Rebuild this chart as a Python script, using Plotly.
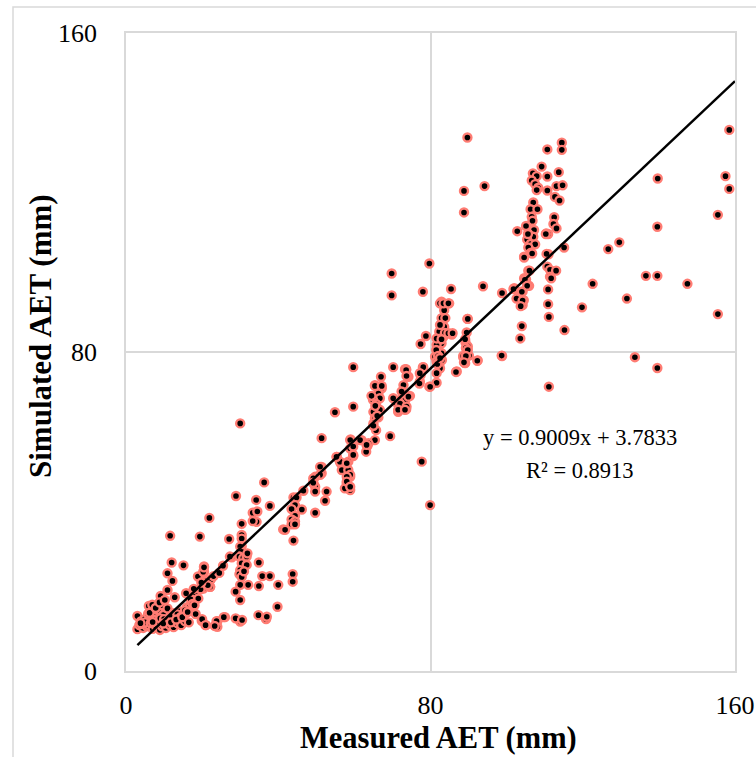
import plotly.graph_objects as go

# Measured (x) and simulated (y) AET, mm
measured_aet = [
    # right sparse
    158.5,139.7,157.5,158.5,155.5,139.6,129.6,126.7,136.6,139.6,122.6,147.5,119.8,131.6,155.5,133.7,139.6,
    # x 88-100 upper
    89.7,88.8,94.2,88.8,93.8,98.8,89.7,89.5,89.6,92.4,98.8,89.0,
    # cluster 102-116
    114.5,114.5,110.7,109.2,113.7,106.9,107.9,110.7,106.6,107.5,108.3,107.9,113.1,114.7,110.7,112.7,113.9,107.0,
    106.3,108.1,106.6,106.8,112.5,112.3,113.1,105.1,102.8,107.2,105.7,107.0,110.4,105.4,106.3,107.5,105.7,106.4,
    104.6,111.0,115.1,105.7,110.7,111.4,113.0,111.4,104.6,110.9,110.9,111.1,104.0,103.6,115.2,111.1,104.2,104.5,
    103.1,102.0,104.2,105.9,105.1,106.0,111.7,110.9,106.7,104.6,104.8,105.4,104.0,102.6,104.2,103.7,101.8,105.6,
    110.3,110.5,
    # 78-92
    79.7,78.0,85.4,82.9,84.9,83.6,82.9,83.9,83.6,82.3,83.4,85.6,82.9,81.6,82.3,81.2,82.9,81.6,82.3,82.5,81.6,78.8,
    77.4,78.0,73.6,74.2,77.4,89.8,89.2,89.8,90.1,88.6,89.1,92.3,98.7,86.9,82.5,83.4,84.7,82.5,83.8,81.6,82.9,
    84.7,85.8,81.5,82.0,83.0,81.8,82.5,78.1,81.6,79.7,89.1,89.3,89.8,88.6,89.3,69.8,69.8,77.7,79.9,
    # 44-78
    59.7,70.2,73.3,73.9,67.0,65.4,67.2,66.3,66.7,64.9,65.7,66.7,65.0,65.4,66.3,65.0,65.7,59.7,54.9,51.4,59.0,61.9,
    65.4,69.4,63.4,58.9,63.1,59.7,55.4,56.4,58.4,56.7,58.4,58.9,51.4,51.4,72.9,72.4,74.6,72.0,73.3,71.1,73.6,71.5,
    77.2,77.2,79.9,86.7,88.8,65.4,67.2,64.5,65.5,66.0,65.0,70.2,72.0,71.5,73.7,73.3,74.2,73.6,73.7,77.1,58.9,61.5,
    63.7,59.7,63.2,56.2,58.0,58.9,58.0,58.9,57.5,59.7,55.3,51.0,51.0,49.7,49.2,49.7,49.7,52.7,52.3,49.7,46.6,44.0,
    44.8,44.4,43.5,46.2,44.4,43.5,44.4,43.5,44.4,41.3,41.8,44.0,49.2,49.2,58.0,58.0,58.9,
    # 19-45
    30.0,36.3,28.9,34.2,33.3,34.5,34.3,33.3,37.8,21.9,30.4,30.4,30.4,30.4,27.1,27.8,34.9,19.4,20.5,30.0,30.4,29.8,
    30.8,31.7,30.4,31.7,30.0,29.8,30.4,31.9,27.3,40.0,39.8,35.8,37.8,34.9,30.0,32.1,28.8,30.0,43.8,43.8,34.8,36.8,
    30.0,28.8,26.0,24.0,24.0,21.0,19.9,30.5,20.5,22.1,21.2,22.1,20.3,11.6,37.0,31.0,
    # bottom-left cluster
    3.0,3.5,4.5,5.5,6.0,7.0,8.0,8.9,9.5,10.5,11.5,12.5,13.5,14.5,15.5,16.5,
    3.0,4.0,5.0,5.8,6.0,6.9,7.5,8.4,9.1,9.5,9.8,10.9,10.9,10.9,12.2,12.0,15.1,11.5,12.5,13.0,14.0,15.0,16.0,16.8,
    17.0,18.3,19.6,18.3,20.0,20.9,23.8,23.3,25.7,18.9,20.3,20.5,21.0,22.1,22.3,21.5,
    4.0,5.0,6.5,7.5,8.5,9.0,10.0,11.0,12.0,13.5,14.5,15.5,17.5,19.0,3.8,7.0,9.8,11.8,13.2,14.8,16.2,18.0,
    6.2,7.8,8.8,10.2,12.8,15.8,17.8,19.8,23.0,24.5,25.5,
]
simulated_aet = [
    135.7,123.5,124.1,120.9,114.4,111.4,107.5,105.8,99.1,99.1,97.1,97.1,91.2,93.4,89.5,78.7,76.0,
    133.8,120.4,121.6,115.0,96.5,94.8,88.3,84.9,81.0,77.9,79.0,77.3,
    132.5,130.7,130.8,126.5,125.1,124.8,124.1,124.0,123.0,122.1,121.2,120.6,121.6,121.8,120.5,118.9,118.0,117.5,
    115.8,115.8,113.9,112.9,113.8,112.1,111.0,111.6,110.3,110.6,109.6,108.9,109.7,108.2,107.1,107.0,106.2,104.9,
    103.9,104.5,106.2,100.4,101.4,100.6,100.4,98.9,98.5,95.7,92.0,88.8,86.5,83.4,85.5,71.3,91.8,93.0,
    93.7,96.0,95.2,96.6,98.2,100.4,98.5,109.6,104.7,103.7,98.1,96.6,95.1,93.4,92.9,91.5,95.8,109.6,
    109.6,104.6,
    102.2,95.1,95.8,92.6,92.2,90.5,88.5,88.5,86.3,85.1,83.8,84.4,82.2,81.8,80.1,78.8,79.7,77.6,76.7,75.9,74.7,84.0,
    82.0,76.2,75.7,73.8,74.2,88.3,82.4,81.4,79.1,78.7,77.2,77.8,79.1,75.1,92.2,92.2,92.2,86.8,84.8,83.4,83.2,
    84.7,84.7,80.5,79.0,78.0,77.0,78.5,76.2,72.3,71.3,83.2,81.0,80.5,79.0,79.0,99.7,94.2,52.5,41.6,
    76.2,76.2,75.7,74.0,73.8,71.7,70.9,69.6,68.4,68.0,67.0,65.5,65.0,63.4,63.6,62.1,60.4,66.3,64.9,58.4,58.1,57.9,
    57.9,58.9,56.4,55.8,55.0,53.9,53.7,52.1,52.5,50.4,50.4,48.7,51.2,49.6,71.7,70.1,69.0,68.0,67.8,67.3,65.6,65.0,
    74.7,72.6,71.3,75.0,77.4,71.5,71.5,69.0,66.5,64.0,61.5,68.4,67.1,65.5,66.3,65.5,68.8,75.5,74.0,72.1,57.9,57.9,
    57.1,56.3,56.7,52.5,52.1,49.2,47.1,45.4,45.8,54.2,53.7,51.2,49.2,48.7,47.1,46.2,45.0,45.0,42.7,39.7,45.2,43.5,
    43.5,41.6,40.6,40.5,38.9,38.0,37.5,36.8,36.8,35.5,35.4,32.7,48.3,47.2,48.7,47.5,46.2,
    62.1,47.3,43.9,42.9,39.7,40.0,37.4,37.6,41.4,38.4,36.9,34.1,33.2,31.3,33.1,28.5,27.2,33.7,26.2,31.2,29.9,28.7,
    28.3,28.7,27.0,26.6,25.3,24.3,23.6,29.5,28.7,21.6,16.1,23.8,23.8,21.3,21.6,21.6,19.9,17.8,24.3,22.4,14.0,13.0,
    12.4,13.2,13.5,12.5,11.1,11.5,12.6,12.8,24.9,22.8,22.0,21.1,20.7,33.9,13.6,25.0,
    10.5,11.5,10.8,11.2,11.5,10.6,11.0,10.3,11.2,10.8,11.5,11.0,12.0,11.5,12.5,12.2,
    13.8,12.5,13.0,14.3,16.3,16.6,13.5,15.3,18.8,16.5,14.0,15.7,20.3,24.5,22.6,27.2,26.5,13.5,14.5,13.0,15.0,14.0,16.0,16.1,
    18.0,19.6,20.5,14.3,13.0,11.5,12.5,11.3,13.5,23.7,24.9,26.0,22.5,21.1,23.0,21.5,
    11.8,12.2,12.0,12.8,12.4,13.2,13.0,12.6,13.8,14.2,13.6,15.2,16.8,18.2,12.0,12.3,11.9,12.2,12.9,13.5,14.8,16.5,
    14.6,15.8,17.2,17.8,18.5,19.5,20.6,22.2,23.8,24.6,26.4,
]

# Linear trend reported on the chart
slope = 0.9009
intercept = 3.7833
trend_x = [3.0, 160.0]
trend_y = [slope * v + intercept for v in trend_x]

axis_ticks = [0, 80, 160]
tick_labels = ["0", "80", "160"]

FONT = "Liberation Serif, DejaVu Serif, serif"
GRID = "#d9d9d9"

fig = go.Figure()
fig.add_trace(go.Scatter(
    x=measured_aet, y=simulated_aet, mode="markers",
    marker=dict(size=8, color="black", line=dict(color="rgb(255,124,115)", width=2.4)),
    showlegend=False, hoverinfo="x+y",
))
fig.add_trace(go.Scatter(
    x=trend_x, y=trend_y, mode="lines",
    line=dict(color="black", width=2.5), showlegend=False, hoverinfo="skip",
))

W, H = 756, 757
L, T = 126, 33
R = W - 735
B = H - 671
pw, ph = 735 - 126, 671 - 33

def px(xp):
    return (xp - 126) / pw

def py(yp):
    return (671 - yp) / ph

fig.update_layout(
    width=W, height=H,
    margin=dict(l=L, r=R, t=T, b=B, pad=0, autoexpand=False),
    paper_bgcolor="white", plot_bgcolor="white",
    font=dict(family=FONT, size=21, color="black"),
    xaxis=dict(
        range=[0, 160], tickvals=axis_ticks, ticktext=tick_labels,
        showgrid=True, gridcolor=GRID, gridwidth=1.5,
        showline=True, linecolor=GRID, linewidth=1.5, mirror=True,
        zeroline=False, ticks="outside", ticklen=10, tickcolor="rgba(0,0,0,0)",
        tickfont=dict(family=FONT, size=26), automargin=False,
    ),
    yaxis=dict(
        range=[0, 160], tickvals=axis_ticks, ticktext=tick_labels,
        showgrid=True, gridcolor=GRID, gridwidth=1.5,
        showline=True, linecolor=GRID, linewidth=1.5, mirror=True,
        zeroline=False, ticks="outside", ticklen=22, tickcolor="rgba(0,0,0,0)",
        tickfont=dict(family=FONT, size=26), automargin=False,
    ),
    shapes=[dict(type="rect", xref="paper", yref="paper",
                 x0=px(13), x1=px(770), y0=py(7), y1=py(770),
                 line=dict(color=GRID, width=1.5), layer="below")],
    annotations=[
        dict(text="y = 0.9009x + 3.7833", x=px(580), y=py(438), xref="paper", yref="paper",
             showarrow=False, font=dict(family=FONT, size=22.5), xanchor="center", yanchor="middle"),
        dict(text="R² = 0.8913", x=px(580), y=py(470), xref="paper", yref="paper",
             showarrow=False, font=dict(family=FONT, size=22.5), xanchor="center", yanchor="middle"),
        dict(text="<b>Measured AET (mm)</b>", x=px(438), y=py(738), xref="paper", yref="paper",
             showarrow=False, font=dict(family=FONT, size=30.5), xanchor="center", yanchor="middle"),
        dict(text="<b>Simulated AET (mm)</b>", x=px(40), y=py(336), xref="paper", yref="paper",
             showarrow=False, textangle=-90, font=dict(family=FONT, size=31),
             xanchor="center", yanchor="middle"),
    ],
)

# remove the browser's default page margin so the figure fills the window exactly
fig.write_html(
    "out.html",
    config={"displayModeBar": False},
    post_script=("document.body.style.margin='0';"
                 "document.documentElement.style.overflow='hidden';"
                 "document.body.style.overflow='hidden';"),
)
